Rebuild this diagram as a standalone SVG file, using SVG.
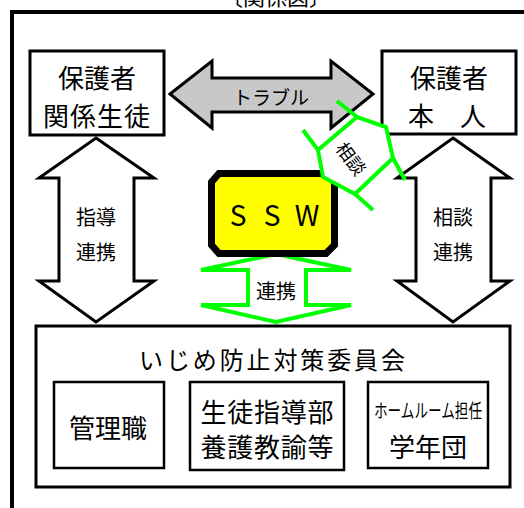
<svg xmlns="http://www.w3.org/2000/svg" width="524" height="508" viewBox="0 0 524 508">
<style>
text{font-family:"Noto Sans CJK JP","Liberation Sans",sans-serif;fill:#000;text-anchor:middle;dominant-baseline:central}
.box{fill:#fff;stroke:#000;stroke-width:3}
.sub{fill:#fff;stroke:#000;stroke-width:2.5}
.blk{fill:#fff;stroke:#000;stroke-width:3;stroke-linejoin:miter}
.grn{fill:#fff;stroke:#00ff00;stroke-width:4;stroke-linejoin:miter}
.grnl{fill:none;stroke:#00ff00;stroke-width:4;stroke-linecap:butt}
</style>
<rect width="524" height="508" fill="#fff"/>
<g id="frame">
<text x="276" y="-5" font-size="22">〔関係図〕</text>
<path d="M12 508V12H524" fill="none" stroke="#000" stroke-width="4"/>
</g>
<g id="guardian-related">
<rect class="box" x="30" y="51" width="134" height="84"/>
<text x="97" y="76" font-size="26">保護者</text>
<text x="97" y="114" font-size="26" letter-spacing="1">関係生徒</text>
</g>
<g id="guardian-self">
<rect class="box" x="382" y="51" width="134" height="83"/>
<text x="449" y="76" font-size="26">保護者</text>
<text x="447" y="114" font-size="26">本　人</text>
</g>
<g id="committee">
<rect class="box" x="36" y="326" width="474" height="161"/>
<text x="272" y="358" font-size="24" textLength="266">いじめ防止対策委員会</text>
<g id="admin">
<rect class="sub" x="54" y="382" width="110" height="86"/>
<text x="108" y="426" font-size="26">管理職</text>
</g>
<g id="guidance">
<rect class="sub" x="190" y="382" width="154" height="88"/>
<text x="267" y="410" font-size="26" textLength="133">生徒指導部</text>
<text x="267" y="445" font-size="26" textLength="133">養護教諭等</text>
</g>
<g id="homeroom">
<rect class="sub" x="368" y="382" width="120" height="86"/>
<text x="428" y="409" font-size="19" textLength="108" lengthAdjust="spacingAndGlyphs">ホームルーム担任</text>
<text x="428" y="445" font-size="26">学年団</text>
</g>
</g>
<g id="connectors">
<g id="trouble">
<polygon class="blk" style="fill:#c8c8c8" points="170,94 212,61 212,78 331,78 331,61 373,94 331,128 331,112 212,112 212,128"/>
<text x="271" y="96" font-size="19">トラブル</text>
</g>
<g id="shidou">
<polygon class="blk" points="96,138 154,178 134,178 134,281 154,281 96,322 39,281 59,281 59,178 39,178"/>
<text x="96" y="216" font-size="20">指導</text>
<text x="96" y="251" font-size="20">連携</text>
</g>
<g id="soudan-renkei">
<polygon class="blk" points="453,138 510,178 491,178 491,281 510,281 453,322 397,281 416,281 416,178 397,178"/>
<text x="453" y="216" font-size="20">相談</text>
<text x="453" y="251" font-size="20">連携</text>
</g>
<g id="renkei">
<polygon class="grn" points="276,254 351,270 306,270 306,305 351,305 276,322 201,305 248,305 248,270 201,270"/>
<text x="276" y="290" font-size="20">連携</text>
</g>
</g>
<g id="ssw">
<polygon points="219,173.5 326,173.5 334.5,182 334.5,245 326,253.5 219,253.5 211.5,245 211.5,182" fill="#ffff00" stroke="#000" stroke-width="7"/>
<text x="238" y="214" font-size="28" font-family="Liberation Sans">S</text>
<text x="272" y="214" font-size="28" font-family="Liberation Sans">S</text>
<text x="307" y="214" font-size="28" font-family="Liberation Sans">W</text>
</g>
<g id="soudan">
<polygon class="grn" points="318,150 357,117 386,127 393,158 355,194 323,177"/>
<path class="grnl" d="M318,150L303,130M357,117L337,101M393,158L405,180M355,194L373,210"/>
<text x="352" y="158" font-size="18" transform="rotate(53 352 158)">相談</text>
</g>
</svg>
